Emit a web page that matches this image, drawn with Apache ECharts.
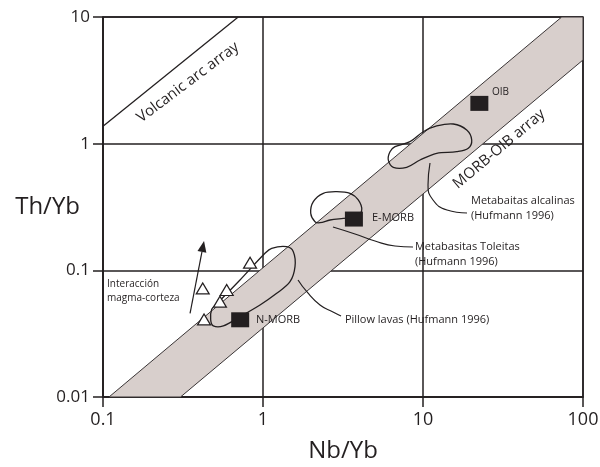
<!DOCTYPE html>
<html>
<head>
<meta charset="utf-8">
<script src="https://cdn.jsdelivr.net/npm/echarts@6/dist/echarts.min.js"></script>
<style>
  html, body { margin: 0; padding: 0; background: #fff; }
  #chart { width: 600px; height: 467px; }
</style>
</head>
<body>
<div id="chart"></div>
<script>
// Th/Yb vs Nb/Yb discrimination diagram (log-log)
const xTicks = [0.1, 1, 10, 100];
const xTickLabels = ['0.1', '1', '10', '100'];
const yTicks = [0.01, 0.1, 1, 10];
const yTickLabels = ['0.01', '0.1', '1', '10'];

// MORB-OIB array band (outline vertices)
const bandX = [0.109, 73.6, 100, 100, 0.305];
const bandY = [0.01, 10, 10, 4.58, 0.01];

// Volcanic arc array boundary
const arcX = [0.1, 0.70];
const arcY = [1.37, 10];

// Reference compositions
const refNames = ['N-MORB', 'E-MORB', 'OIB'];
const refX = [0.72, 3.7, 22.5];
const refY = [0.0407, 0.254, 2.08];

// Samples
const sampleX = [0.83, 0.42, 0.593, 0.538, 0.428];
const sampleY = [0.115, 0.072, 0.070, 0.0566, 0.041];

// Fields (Hufmann 1996)
const pillowX = [0.478, 0.5135, 0.718, 1.029, 1.133, 1.406, 1.547, 1.585, 1.475, 1.218, 0.958, 0.718, 0.565, 0.489, 0.471];
const pillowY = [0.0492, 0.0542, 0.0839, 0.1363, 0.1493, 0.1537, 0.1403, 0.1069, 0.0813, 0.0659, 0.0533, 0.0431, 0.0364, 0.0364, 0.0406];
const toleitasX = [2.113, 1.987, 2.063, 2.382, 2.888, 3.499, 3.940, 4.140, 3.851, 3.177, 2.623, 2.271];
const toleitasY = [0.2421, 0.2820, 0.3483, 0.4057, 0.4177, 0.4057, 0.3592, 0.2995, 0.2651, 0.2575, 0.2497, 0.2377];
const alcalinasX = [6.220, 6.683, 8.295, 10.04, 12.18, 15.47, 18.76, 20.16, 19.19, 16.24, 12.18, 9.578, 7.908, 6.523, 6.068];
const alcalinasY = [0.8641, 0.9465, 1.0365, 1.243, 1.379, 1.430, 1.282, 1.069, 0.9193, 0.8641, 0.8395, 0.7433, 0.6509, 0.6509, 0.7433];

// Leader lines from fields to their captions
const pillowLeadX = [1.655, 1.884, 2.271, 2.738, 3.073];
const pillowLeadY = [0.0839, 0.0675, 0.0533, 0.0469, 0.0436];
const toleitasLeadX = [2.738, 3.758, 5.012, 6.683, 8.66];
const toleitasLeadY = [0.2198, 0.1936, 0.1704, 0.1556, 0.1528];
const alcalinasLeadX = [11.06, 10.75, 11.55, 14.13, 18.84];
const alcalinasLeadY = [0.7036, 0.4719, 0.3592, 0.2995, 0.2836];

// Crustal interaction trend arrow (tail, head)
const arrowX = [0.35, 0.428];
const arrowY = [0.0458, 0.1705];

// Captions
const noteText = ['OIB', 'E-MORB', 'N-MORB', 'Metabasitas Toleitas\n(Hufmann 1996)', 'Metabaitas alcalinas\n(Hufmann 1996)', 'Pillow lavas (Hufmann 1996)', 'Interacción\nmagma-corteza', 'Volcanic arc array', 'MORB-OIB array'];
const noteX = [27.0, 4.80, 0.904, 8.91, 19.95, 3.25, 0.106, 0.34, 29.9];
const noteY = [2.56, 0.259, 0.0406, 0.133, 0.31, 0.0406, 0.0687, 3.05, 0.908];

const INK = '#231f20';
const FONT = "'Open Sans', sans-serif";
const noteAlign = ['left', 'left', 'left', 'left', 'left', 'left', 'left', 'center', 'center'];
const noteRotate = [0, 0, 0, 0, 0, 0, 0, 37, 40];
const noteSize = [10, 11, 11, 11, 11, 11, 10, 15, 15];

function tickFormatter(ticks, labels) {
  return function (v) {
    const i = ticks.findIndex(t => Math.abs(Math.log10(t) - Math.log10(v)) < 1e-6);
    return i >= 0 ? labels[i] : '';
  };
}

function areaSeries(xs, ys, style, smooth, z) {
  return {
    type: 'custom', coordinateSystem: 'cartesian2d', silent: true, z: z,
    data: [[xs[0], ys[0]]],
    renderItem: function (params, api) {
      return {
        type: 'polygon',
        shape: { points: xs.map((x, i) => api.coord([x, ys[i]])), smooth: smooth },
        style: style
      };
    }
  };
}

function curveSeries(xs, ys, width, smooth) {
  return {
    type: 'line', silent: true, z: 3, smooth: smooth, showSymbol: false, symbol: 'none',
    lineStyle: { color: INK, width: width },
    data: xs.map((x, i) => [x, ys[i]])
  };
}

const chart = echarts.init(document.getElementById('chart'), null, { renderer: 'canvas' });

const axisCommon = {
  type: 'log', logBase: 10,
  axisLine: { show: true, lineStyle: { color: INK, width: 1.5 } },
  axisTick: { show: true, length: 10, lineStyle: { color: INK, width: 1.5 } },
  minorTick: { show: false },
  splitLine: { show: true, lineStyle: { color: INK, width: 1.5 } },
  nameMoveOverlap: false
};

chart.setOption({
  animation: false,
  backgroundColor: '#fff',
  grid: {
    left: 103, right: 17, top: 17, bottom: 70,
    outerBoundsMode: 'none', containLabel: false,
    show: true, borderColor: INK, borderWidth: 1.5
  },
  xAxis: Object.assign({}, axisCommon, {
    min: 0.1, max: 100,
    name: 'Nb/Yb', nameLocation: 'middle', nameGap: 42,
    nameTextStyle: { fontFamily: FONT, fontSize: 24, color: INK },
    axisLabel: { fontFamily: FONT, fontSize: 18, color: INK, margin: 14, formatter: tickFormatter(xTicks, xTickLabels) }
  }),
  yAxis: Object.assign({}, axisCommon, {
    min: 0.01, max: 10,
    name: 'Th/Yb', nameLocation: 'middle', nameGap: 23, nameRotate: 0,
    nameTextStyle: { fontFamily: FONT, fontSize: 24, color: INK, align: 'right', verticalAlign: 'middle', padding: [0, 0, 6, 0] },
    axisLabel: { fontFamily: FONT, fontSize: 17, color: INK, margin: 13, formatter: tickFormatter(yTicks, yTickLabels) }
  }),
  series: [
    areaSeries(bandX, bandY, { fill: '#d8cfcc', stroke: '#3a3536', lineWidth: 1 }, 0, 1),
    areaSeries(pillowX, pillowY, { fill: 'none', stroke: INK, lineWidth: 1.3 }, 0.35, 3),
    areaSeries(toleitasX, toleitasY, { fill: 'none', stroke: INK, lineWidth: 1.3 }, 0.35, 3),
    areaSeries(alcalinasX, alcalinasY, { fill: 'none', stroke: INK, lineWidth: 1.3 }, 0.35, 3),
    curveSeries(arcX, arcY, 1.3, false),
    curveSeries(pillowLeadX, pillowLeadY, 1.2, 0.5),
    curveSeries(toleitasLeadX, toleitasLeadY, 1.2, 0.5),
    curveSeries(alcalinasLeadX, alcalinasLeadY, 1.2, 0.5),
    {
      // trend arrow: shaft plus filled head at the second point
      type: 'custom', coordinateSystem: 'cartesian2d', silent: true, z: 4,
      data: [[arrowX[0], arrowY[0]]],
      renderItem: function (params, api) {
        const a = api.coord([arrowX[0], arrowY[0]]);
        const b = api.coord([arrowX[1], arrowY[1]]);
        const dx = b[0] - a[0], dy = b[1] - a[1];
        const len = Math.hypot(dx, dy);
        const ux = dx / len, uy = dy / len;
        const headLen = 11, headHalf = 4.5;
        const base = [b[0] - ux * headLen, b[1] - uy * headLen];
        return {
          type: 'group',
          children: [
            { type: 'line', shape: { x1: a[0], y1: a[1], x2: base[0], y2: base[1] }, style: { stroke: INK, lineWidth: 1.2 } },
            { type: 'polygon', shape: { points: [b, [base[0] - uy * headHalf, base[1] + ux * headHalf], [base[0] + uy * headHalf, base[1] - ux * headHalf]] }, style: { fill: INK } }
          ]
        };
      }
    },
    {
      type: 'scatter', silent: true, z: 4, symbol: 'rect', symbolSize: [18, 15],
      itemStyle: { color: INK, opacity: 1 },
      data: refX.map((x, i) => ({ name: refNames[i], value: [x, refY[i]] }))
    },
    {
      type: 'scatter', silent: true, z: 4, symbol: 'triangle', symbolSize: [13, 11],
      itemStyle: { color: '#fff', borderColor: INK, borderWidth: 1.2, opacity: 1 },
      data: sampleX.map((x, i) => [x, sampleY[i]])
    },
    {
      type: 'custom', coordinateSystem: 'cartesian2d', silent: true, z: 5,
      data: noteX.map((x, i) => [x, noteY[i]]),
      renderItem: function (params, api) {
        const i = params.dataIndex;
        const p = api.coord([api.value(0), api.value(1)]);
        return {
          type: 'text', x: p[0], y: p[1],
          rotation: noteRotate[i] * Math.PI / 180,
          style: {
            text: noteText[i], fill: INK, fontFamily: FONT, fontSize: noteSize[i],
            align: noteAlign[i], verticalAlign: 'middle', lineHeight: noteSize[i] + 4
          }
        };
      }
    }
  ]
});
</script>
</body>
</html>
